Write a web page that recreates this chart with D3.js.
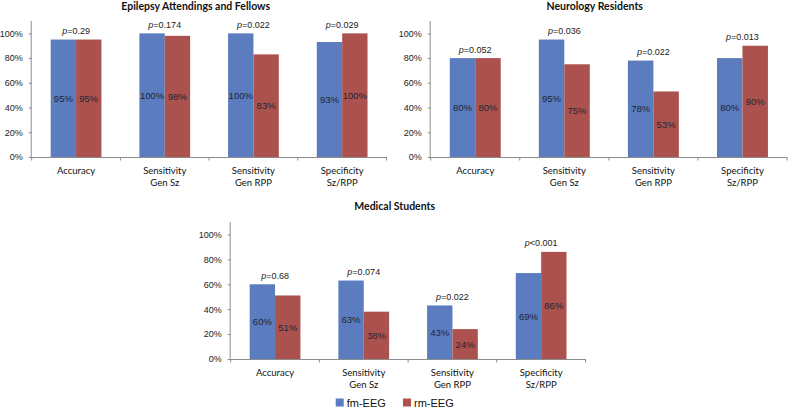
<!DOCTYPE html>
<html>
<head>
<meta charset="utf-8">
<script src="https://cdn.jsdelivr.net/npm/d3@7"></script>
<style>
  body { margin: 0; background: #fff; }
  svg { display: block; }
</style>
</head>
<body>
<svg id="chart" width="788" height="410"></svg>
<script>
const categories = [['Accuracy'], ['Sensitivity', 'Gen Sz'], ['Sensitivity', 'Gen RPP'], ['Specificity', 'Sz/RPP']];
const series = ['fm-EEG', 'rm-EEG'];
const yTicks = [0, 20, 40, 60, 80, 100];

const epilepsyFm = [95, 100, 100, 93];
const epilepsyRm = [95, 98, 83, 100];
const epilepsyP = ['=0.29', '=0.174', '=0.022', '=0.029'];

const neuroFm = [80, 95, 78, 80];
const neuroRm = [80, 75, 53, 90];
const neuroP = ['=0.052', '=0.036', '=0.022', '=0.013'];

const medFm = [60, 63, 43, 69];
const medRm = [51, 38, 24, 86];
const medP = ['=0.68', '=0.074', '=0.022', '<0.001'];

const COLORS = ['#5B7DBF', '#AC524E'];
const AXIS_COLOR = '#8c8c8c';

const panels = [
    {title: 'Epilepsy Attendings and Fellows', fm: epilepsyFm, rm: epilepsyRm, p: epilepsyP,
        left: 31.7, right: 386.5, base: 157, top: 21, titleY: 10},
    {title: 'Neurology Residents', fm: neuroFm, rm: neuroRm, p: neuroP,
        left: 430.7, right: 787, base: 157, top: 21, titleY: 10},
    {title: 'Medical Students', fm: medFm, rm: medRm, p: medP,
        left: 230.7, right: 585.5, base: 359, top: 222, titleY: 209.5},
];

const svg = d3.select('#chart');

panels.forEach(panel => {
    const g = svg.append('g');
    const x0 = d3.scaleBand()
        .domain(d3.range(categories.length))
        .range([panel.left, panel.right]);
    const bw = x0.bandwidth();
    const x1 = d3.scaleBand()
        .domain(series)
        .range([bw * 0.214, bw * 0.786]);
    const y = d3.scaleLinear().domain([0, 110]).range([panel.base, panel.top]);

    g.append('text')
        .attr('x', panel.left + 164)
        .attr('y', panel.titleY)
        .attr('text-anchor', 'middle')
        .style('font-family', 'Lato, "Open Sans", sans-serif')
        .style('font-weight', 'bold')
        .style('font-size', '10.5px')
        .style('fill', '#111')
        .text(panel.title);

    // bars
    const rows = categories.map((c, i) => ({i, vals: [panel.fm[i], panel.rm[i]], p: panel.p[i]}));
    const groups = g.selectAll('g.cat')
        .data(rows)
        .join('g')
        .attr('class', 'cat')
        .attr('transform', d => `translate(${x0(d.i)},0)`);

    groups.selectAll('rect')
        .data(d => d.vals.map((v, k) => ({k, v})))
        .join('rect')
        .attr('x', d => x1(series[d.k]))
        .attr('width', x1.bandwidth())
        .attr('y', d => y(d.v))
        .attr('height', d => y(0) - y(d.v))
        .attr('fill', d => COLORS[d.k]);

    groups.selectAll('text.val')
        .data(d => d.vals.map((v, k) => ({k, v})))
        .join('text')
        .attr('class', 'val')
        .attr('x', d => x1(series[d.k]) + x1.bandwidth() / 2)
        .attr('y', d => y(d.v / 2) + 3.5)
        .attr('text-anchor', 'middle')
        .style('font-family', '"Liberation Sans", Arial, sans-serif')
        .style('font-size', '9.5px')
        .style('fill', '#1e2433')
        .text(d => d.v + '%');

    const pText = groups.append('text')
        .attr('x', bw / 2)
        .attr('y', d => y(d3.max(d.vals)) - 5.5)
        .attr('text-anchor', 'middle')
        .style('font-family', '"Liberation Sans", Arial, sans-serif')
        .style('font-size', '9px')
        .style('fill', '#222');
    pText.append('tspan').style('font-style', 'italic').text('p');
    pText.append('tspan').text(d => d.p);

    // y axis
    const yAxis = d3.axisLeft(y)
        .tickValues(yTicks)
        .tickSize(3)
        .tickPadding(6)
        .tickFormat(d => d + '%');
    const ya = g.append('g')
        .attr('transform', `translate(${panel.left},0)`)
        .call(yAxis);
    ya.select('.domain').attr('stroke', AXIS_COLOR).attr('d', `M-0.5,${panel.base}V${panel.top}`);
    ya.selectAll('.tick line').attr('stroke', AXIS_COLOR);
    ya.selectAll('.tick text')
        .style('font-family', '"Liberation Sans", Arial, sans-serif')
        .style('font-size', '9px')
        .style('fill', '#222');

    // x axis
    g.append('line')
        .attr('x1', panel.left).attr('x2', panel.right)
        .attr('y1', panel.base + 0.5).attr('y2', panel.base + 0.5)
        .attr('stroke', AXIS_COLOR);
    g.selectAll('line.sep')
        .data(d3.range(categories.length + 1))
        .join('line')
        .attr('class', 'sep')
        .attr('x1', i => panel.left + i * bw).attr('x2', i => panel.left + i * bw)
        .attr('y1', panel.base).attr('y2', panel.base + 3.5)
        .attr('stroke', AXIS_COLOR);

    const labels = g.selectAll('text.cat')
        .data(categories)
        .join('text')
        .attr('class', 'cat')
        .attr('x', (c, i) => x0(i) + bw / 2)
        .attr('y', panel.base + 16.5)
        .attr('text-anchor', 'middle')
        .style('font-family', 'Lato, "Open Sans", sans-serif')
        .style('font-size', '9.5px')
        .style('fill', '#111');
    labels.selectAll('tspan')
        .data(c => c)
        .join('tspan')
        .attr('x', function () { return d3.select(this.parentNode).attr('x'); })
        .attr('dy', (t, j) => j === 0 ? 0 : 12)
        .text(t => t);
});

// legend
const legendX = [335.7, 403];
const legend = svg.append('g');
series.forEach((s, k) => {
    legend.append('rect')
        .attr('x', legendX[k]).attr('y', 398.5)
        .attr('width', 8).attr('height', 8)
        .attr('fill', COLORS[k]);
    legend.append('text')
        .attr('x', legendX[k] + 11).attr('y', 407)
        .style('font-family', '"Liberation Sans", Arial, sans-serif')
        .style('font-size', '11px')
        .style('fill', '#111')
        .text(s);
});
</script>
</body>
</html>
